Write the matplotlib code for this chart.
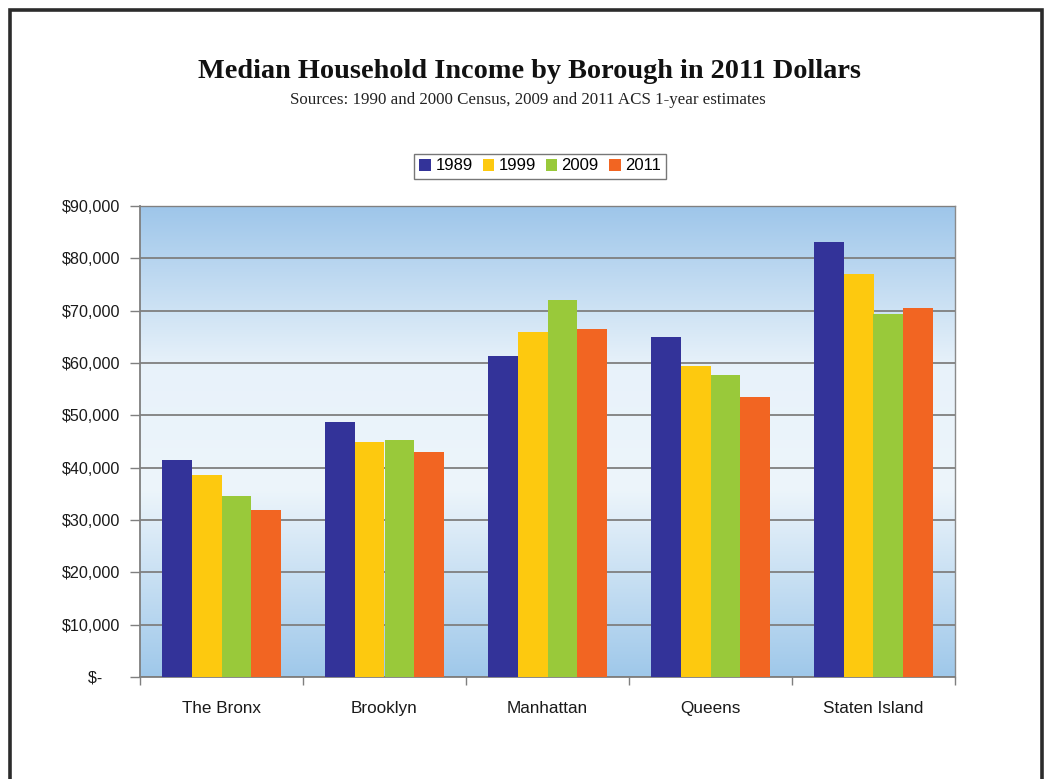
import numpy as np
import matplotlib
matplotlib.use("Agg")
import matplotlib.pyplot as plt
from matplotlib.colors import LinearSegmentedColormap
from matplotlib.patches import Rectangle
from matplotlib.ticker import FuncFormatter

boroughs = ["The Bronx", "Brooklyn", "Manhattan", "Queens", "Staten Island"]
years = ["1989", "1999", "2009", "2011"]
inc_1989 = [41500, 48800, 61300, 64900, 83200]
inc_1999 = [38600, 45000, 65900, 59400, 77000]
inc_2009 = [34500, 45200, 72000, 57700, 69400]
inc_2011 = [32000, 42900, 66500, 53500, 70600]
series = [inc_1989, inc_1999, inc_2009, inc_2011]
colors = ["#333399", "#FDC90F", "#99C93A", "#F26522"]

W, H = 1045, 779
fig = plt.figure(figsize=(W / 100, H / 100), dpi=100)
fig.patch.set_facecolor("white")

# outer frame
fig.patches.append(Rectangle((9.5 / W, -0.05), (1041.5 - 9.5) / W, 1.05 - 9.5 / H,
                             transform=fig.transFigure, fill=False,
                             edgecolor="#2b2b2b", linewidth=2.6, zorder=0))

ax = fig.add_axes([140 / W, 1 - 677 / H, (955 - 140) / W, (677 - 206) / H])

# gradient background
cmap = LinearSegmentedColormap.from_list(
    "bg", [(0.0, "#9fc8ea"), (0.40, "#edf5fb"), (0.66, "#e8f2fa"), (1.0, "#9ec6ea")])
grad = np.linspace(0, 1, 256).reshape(-1, 1)
ax.imshow(grad, cmap=cmap, aspect="auto", extent=[-0.5, 4.5, 90000, 0],
          zorder=0, interpolation="bicubic")

x = np.arange(len(boroughs))
bw = 0.181
for i, (vals, c, lab) in enumerate(zip(series, colors, years)):
    ax.bar(x + (i - 1.5) * bw, vals, width=bw, color=c, label=lab, zorder=3,
           linewidth=0)

ax.set_xlim(-0.5, 4.5)
ax.set_ylim(0, 90000)
ax.set_yticks(np.arange(0, 90001, 10000))

def fmt(v, pos):
    if v == 0:
        return "$-    "
    return "${:,.0f}".format(v)

ax.yaxis.set_major_formatter(FuncFormatter(fmt))
ax.yaxis.grid(True, color="#7f7f7f", linewidth=1.3, zorder=1)
ax.set_axisbelow(False)
for gl in ax.get_ygridlines():
    gl.set_zorder(1)

ax.set_xticks(x)
ax.set_xticklabels(boroughs)
ax.set_xticks(np.arange(-0.5, 5.0, 1.0), minor=True)
ax.tick_params(axis="x", which="major", length=0, pad=17, labelsize=12.3,
               labelcolor="#1a1a1a")
ax.tick_params(axis="x", which="minor", length=6, width=1, color="#7f7f7f",
               direction="out")
ax.tick_params(axis="y", length=7, width=1, color="#7f7f7f", direction="out",
               labelsize=11.6, labelcolor="#1a1a1a", pad=7)
for lab in ax.get_xticklabels() + ax.get_yticklabels():
    lab.set_fontfamily("Liberation Sans")

for s in ["top", "right"]:
    ax.spines[s].set_visible(True)
    ax.spines[s].set_color("#8a8a8a")
    ax.spines[s].set_linewidth(1.0)
ax.spines["left"].set_color("#7f7f7f")
ax.spines["left"].set_linewidth(1.3)
ax.spines["bottom"].set_color("#7f7f7f")
ax.spines["bottom"].set_linewidth(1.3)

fig.text(530 / W, 1 - 72 / H, "Median Household Income by Borough in 2011 Dollars",
         ha="center", va="center", fontsize=20.3, fontweight="bold",
         family="Liberation Serif", color="#111111")
fig.text(528 / W, 1 - 100 / H,
         "Sources: 1990 and 2000 Census, 2009 and 2011 ACS 1-year estimates",
         ha="center", va="center", fontsize=12.2, family="Liberation Serif",
         color="#222222")

leg = fig.legend(loc="center", bbox_to_anchor=(540 / W, 1 - 166 / H), ncol=4,
                 frameon=True, fancybox=False, handlelength=0.7, handleheight=0.7,
                 handletextpad=0.25, columnspacing=0.6, borderpad=0.3,
                 prop={"family": "Liberation Sans", "size": 12})
leg.get_frame().set_edgecolor("#555555")
leg.get_frame().set_linewidth(1.0)

fig.savefig("out.png", dpi=100, facecolor="white")
